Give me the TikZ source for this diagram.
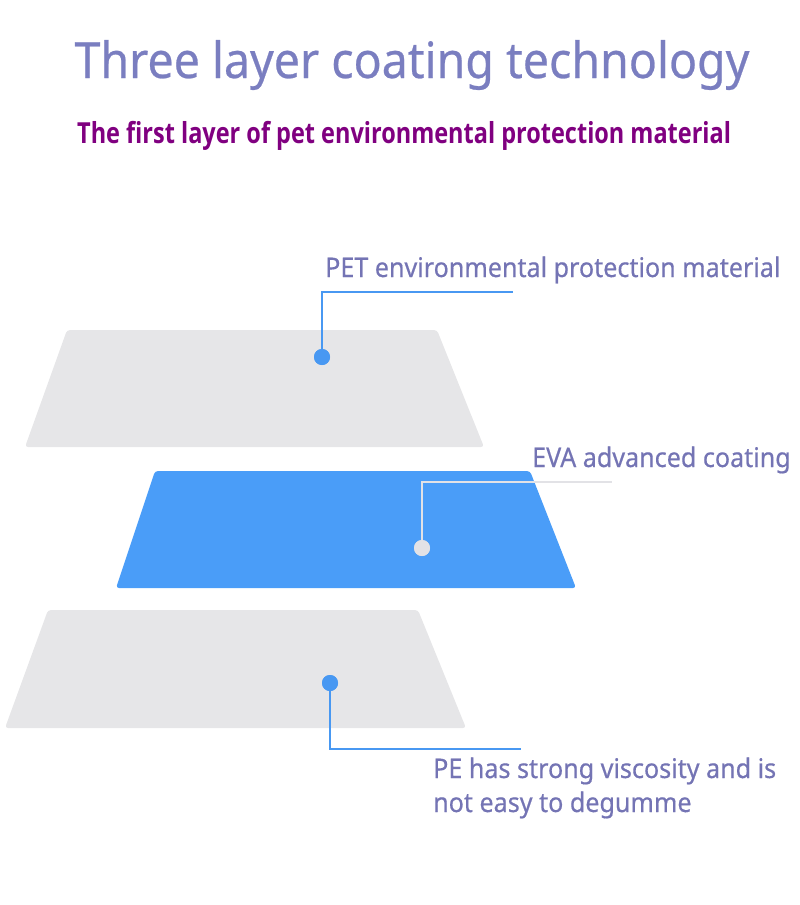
\documentclass[tikz,border=0pt]{standalone}
\usepackage{fontspec}
\setmainfont{Noto Sans}[FakeStretch=0.93,FakeBold=0.5]
\newfontfamily\subfont{Open Sans}[FakeStretch=0.81]
\definecolor{titlec}{RGB}{122,126,192}
\definecolor{labelc}{RGB}{116,116,180}
\definecolor{subc}{RGB}{128,0,128}
\definecolor{layergray}{RGB}{230,230,232}
\definecolor{layerblue}{RGB}{74,157,248}
\definecolor{lineblue}{RGB}{72,152,242}
\definecolor{linegray}{RGB}{226,226,230}
\begin{document}
\begin{tikzpicture}[x=1pt,y=-1pt,
  layer/.style={rounded corners=3pt},
  dotnode/.style={circle,inner sep=0pt,minimum size=16pt},
  leader/.style={line width=2pt},
  lab/.style={anchor=base west,inner sep=0pt,text=labelc,font=\fontsize{27}{34}\selectfont},
]
\useasboundingbox (0,0) rectangle (800,905);
% title
\node[anchor=base,inner sep=0pt,text=titlec,font=\fontsize{50}{60}\selectfont] (title) at (412,78) {Three layer coating technology};
\node[anchor=base west,inner sep=0pt,text=subc,font=\subfont\bfseries\fontsize{29}{35}\selectfont] (sub) at (77,143) {The first layer of pet environmental protection material};
% layers
\fill[layergray,layer] (67,330) -- (437,330) -- (484,447) -- (25,447) -- cycle;
\fill[layerblue,layer] (155,471) -- (530,471) -- (576,588) -- (116,588) -- cycle;
\fill[layergray,layer] (48,610) -- (418,610) -- (466,728) -- (5,728) -- cycle;
% dots
\node[dotnode,fill=lineblue] (d1) at (322,357) {};
\node[dotnode,fill=linegray] (d2) at (422,548) {};
\node[dotnode,fill=lineblue] (d3) at (330,683) {};
% leader ends
\coordinate (e1) at (513,292);
\coordinate (e2) at (612,482);
\coordinate (e3) at (521,749);
\draw[leader,lineblue] (d1.center) |- (e1);
\draw[leader,linegray] (d2.center) |- (e2);
\draw[leader,lineblue] (d3.center) |- (e3);
\node[dotnode,fill=lineblue] at (d1) {};
\node[dotnode,fill=linegray] at (d2) {};
\node[dotnode,fill=lineblue] at (d3) {};
% labels
\node[lab] (l1) at (325,277) {PET environmental protection material};
\node[lab] (l2) at (532,467) {EVA advanced coating};
\node[lab] (l3) at (433,778) {PE has strong viscosity and is};
\node[lab] (l4) at (433,812) {not easy to degumme};
\end{tikzpicture}
\end{document}
